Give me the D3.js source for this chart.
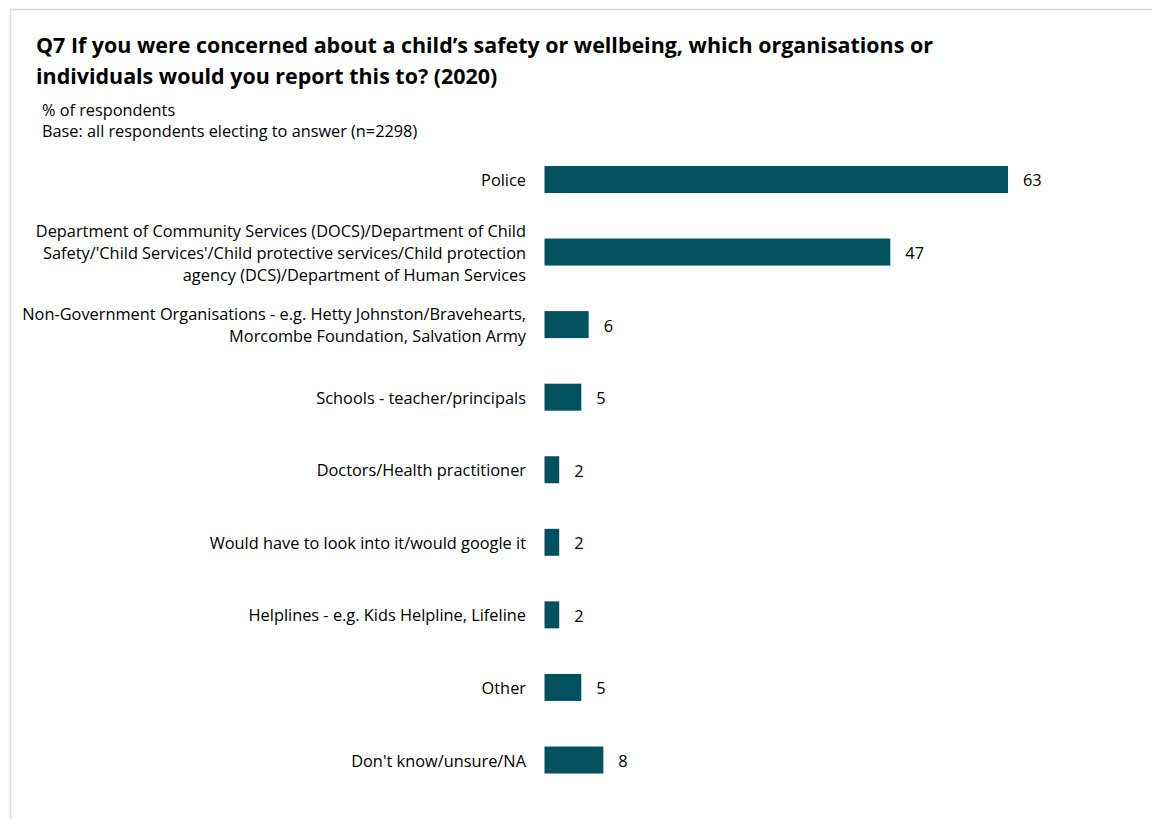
<!DOCTYPE html>
<html>
<head>
<meta charset="utf-8">
<script src="https://cdn.jsdelivr.net/npm/d3@7"></script>
<style>
  html, body { margin: 0; padding: 0; background: #fff; }
  svg { display: block; }
  text { font-family: "Open Sans", sans-serif; fill: #000; }
</style>
</head>
<body>
<svg id="chart" width="1152" height="819"></svg>
<script>
// Survey responses, % of respondents
const categories = [
  ["Police"],
  ["Department of Community Services (DOCS)/Department of Child", "Safety/'Child Services'/Child protective services/Child protection", "agency (DCS)/Department of Human Services"],
  ["Non-Government Organisations - e.g. Hetty Johnston/Bravehearts,", "Morcombe Foundation, Salvation Army"],
  ["Schools - teacher/principals"],
  ["Doctors/Health practitioner"],
  ["Would have to look into it/would google it"],
  ["Helplines - e.g. Kids Helpline, Lifeline"],
  ["Other"],
  ["Don't know/unsure/NA"]
];
const values = [63, 47, 6, 5, 2, 2, 2, 5, 8];

const titleLines = [
  "Q7 If you were concerned about a child\u2019s safety or wellbeing, which organisations or",
  "individuals would you report this to? (2020)"
];
const subtitleLines = ["% of respondents", "Base: all respondents electing to answer (n=2298)"];

const svg = d3.select("#chart");

// frame
svg.append("path")
  .attr("d", "M10.5,819 V9.5 H1152")
  .attr("fill", "none")
  .attr("stroke", "#d9d9d9")
  .attr("stroke-width", 1.5);

svg.selectAll("text.title").data(titleLines).join("text")
  .attr("class", "title")
  .attr("x", 36)
  .attr("y", (d, i) => 53.3 + i * 31)
  .attr("font-size", 21.45)
  .attr("font-weight", "bold")
  .text(d => d);

svg.selectAll("text.sub").data(subtitleLines).join("text")
  .attr("class", "sub")
  .attr("x", 42)
  .attr("y", (d, i) => 115.5 + i * 21)
  .attr("font-size", 16.3)
  .text(d => d);

const x = d3.scaleLinear().domain([0, 63]).range([544.5, 1008]);
const idx = d3.range(categories.length);
const y = d3.scaleBand().domain(idx).range([143.2, 796.3]).paddingInner(0.628).paddingOuter(0.314);

const barColor = "#02515f";

svg.selectAll("rect.bar").data(idx).join("rect")
  .attr("class", "bar")
  .attr("x", x(0))
  .attr("y", i => y(i))
  .attr("width", i => x(values[i]) - x(0))
  .attr("height", y.bandwidth())
  .attr("fill", barColor);

svg.selectAll("text.val").data(idx).join("text")
  .attr("class", "val")
  .attr("x", i => x(values[i]) + 15)
  .attr("y", i => y(i) + y.bandwidth() / 2)
  .attr("dy", "0.42em")
  .attr("font-size", 16.4)
  .text(i => values[i]);

const lineH = 22;
const labels = svg.selectAll("g.cat").data(idx).join("g").attr("class", "cat");
labels.each(function(i) {
  const lines = categories[i];
  const cy = y(i) + y.bandwidth() / 2;
  const top = cy - (lines.length - 1) * lineH / 2;
  d3.select(this).selectAll("text").data(lines).join("text")
    .attr("x", 526)
    .attr("y", (d, j) => top + j * lineH)
    .attr("dy", "0.4em")
    .attr("text-anchor", "end")
    .attr("font-size", 16.35)
    .text(d => d);
});
</script>
</body>
</html>
